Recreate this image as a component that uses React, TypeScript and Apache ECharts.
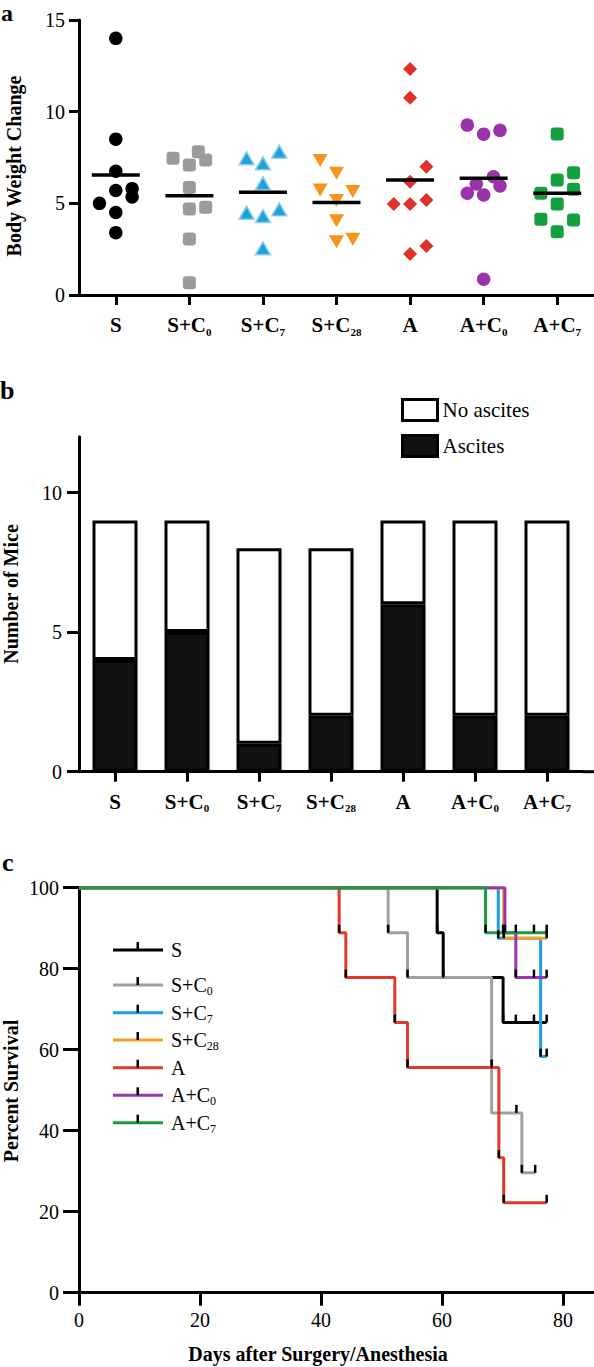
import React, { useEffect, useRef } from "react";
import * as echarts from "echarts";

const FONT = "Liberation Serif, Times New Roman, Times, serif";

// ---------- data ----------
const categories = ["S", "S+C_0", "S+C_7", "S+C_28", "A", "A+C_0", "A+C_7"];

// Panel a: body weight change per mouse (value) and beeswarm slot (offset)
const sVals = [14.0, 8.5, 6.75, 5.7, 5.8, 5.35, 5.0, 4.5, 3.4];
const sOff = [0, 0, 0, 0, 1, 1, -1, 0, 0];
const sc0Vals = [7.82, 7.46, 7.36, 7.09, 5.87, 4.69, 4.78, 3.05, 0.67];
const sc0Off = [0.55, -1, 1, 0, 0, 0, 1, 0, 0];
const sc7Vals = [7.82, 7.46, 7.18, 6.09, 4.49, 4.67, 4.31, 2.55];
const sc7Off = [1, -1, 0, 0, -1, 1, 0, 0];
const sc28Vals = [7.33, 6.64, 5.73, 5.64, 5.15, 4.05, 2.91, 3.04];
const sc28Off = [-1, 0, -1, 1, 0, 0, 0, 1];
const aVals = [12.33, 10.76, 7.0, 6.18, 4.96, 4.96, 5.18, 2.24, 2.67];
const aOff = [0, 0, 1, 0, -1, 0, 1, 0, 1];
const ac0Vals = [9.27, 8.77, 8.98, 6.45, 6.06, 5.95, 5.55, 5.46, 0.86];
const ac0Off = [-1, 0, 1, 0.6, -0.45, 1, -1, 0, 0];
const ac7Vals = [8.78, 6.67, 6.27, 5.77, 5.55, 4.96, 4.13, 4.09, 3.45];
const ac7Off = [0, 1, 0, 1, -1, 0, -1, 1, 0];
const groupMeans = [6.55, 5.42, 5.6, 5.05, 6.27, 6.37, 5.55];

// Panel b: number of mice
const ascites = [4, 5, 1, 2, 6, 2, 2];
const noAscites = [5, 4, 7, 6, 3, 7, 7];

// Panel c: survival (days, percent) and tick marks
const survS_t = [0, 59.2, 60.2, 70.1, 77.3];
const survS_p = [100, 88.9, 77.8, 66.7, 66.7];
const tickS = [[59.2, 88.9], [60.2, 77.8], [70.1, 66.7], [72.2, 66.7], [75.2, 66.7], [77.3, 66.7]];
const survSC0_t = [0, 51.1, 54.3, 68.2, 73.2, 75.4];
const survSC0_p = [100, 88.9, 77.8, 44.4, 29.6, 29.6];
const tickSC0 = [[51.1, 88.9], [54.3, 77.8], [68.2, 55.6], [72.3, 44.4], [73.2, 29.6], [75.4, 29.6]];
const survSC7_t = [0, 69.3, 76.3, 77.3];
const survSC7_p = [100, 87.5, 58.3, 58.3];
const tickSC7 = [[69.3, 87.5], [76.3, 58.3], [77.3, 58.3]];
const survSC28_t = [0, 70.2, 77.3];
const survSC28_p = [100, 87.5, 87.5];
const tickSC28 = [[70.2, 87.5], [77.3, 87.5]];
const survA_t = [0, 43.0, 44.1, 52.2, 54.3, 69.4, 70.2, 77.3];
const survA_p = [100, 88.9, 77.8, 66.7, 55.6, 33.3, 22.2, 22.2];
const tickA = [[43.0, 88.9], [44.1, 77.8], [52.2, 66.7], [54.3, 55.6], [69.4, 33.3], [70.2, 22.2], [77.3, 22.2]];
const survAC0_t = [0, 70.4, 72.2, 77.3];
const survAC0_p = [100, 88.9, 77.8, 77.8];
const tickAC0 = [[70.4, 88.9], [72.2, 77.8], [75.2, 77.8], [77.3, 77.8]];
const survAC7_t = [0, 67.2, 77.3];
const survAC7_p = [100, 88.9, 88.9];
const tickAC7 = [[67.2, 88.9], [70.1, 88.9], [72.2, 88.9], [75.2, 88.9], [77.3, 88.9]];

const yTicksA = [0, 5, 10, 15];
const yTicksB = [0, 5, 10];
const xTicksC = [0, 20, 40, 60, 80];
const yTicksC = [0, 20, 40, 60, 80, 100];

// ---------- styles ----------
const SLOT = 0.222;
const dotColors = ["#000000", "#9b9b9b", "#1ea2d8", "#f5951a", "#e0302a", "#9a32a9", "#14a03e"];
const lineColors = ["#000000", "#a0a0a0", "#1ba1dc", "#f4a024", "#e23a2a", "#9a35ad", "#1a9c3e"];

const toRich = (c: string, m: string) => {
  const parts = c.split("_");
  return parts.length > 1 ? `{${m}|${parts[0]}}{s|${parts[1]}}` : `{${m}|${parts[0]}}`;
};

export default function App() {
  const ref = useRef<HTMLDivElement>(null);
  useEffect(() => {
    if (!ref.current) return;
    const chart = echarts.init(ref.current, undefined, { renderer: "svg" });

    const dotVals = [sVals, sc0Vals, sc7Vals, sc28Vals, aVals, ac0Vals, ac7Vals];
    const dotOffs = [sOff, sc0Off, sc7Off, sc28Off, aOff, ac0Off, ac7Off];
    const symbols: any[] = [
      { symbol: "circle", symbolSize: 13.5 },
      { symbol: "roundRect", symbolSize: 13 },
      { symbol: "triangle", symbolSize: [15, 13] },
      { symbol: "triangle", symbolSize: [15, 13], symbolRotate: 180 },
      { symbol: "diamond", symbolSize: 14 },
      { symbol: "circle", symbolSize: 13.5 },
      { symbol: "roundRect", symbolSize: 13 },
    ];

    const axisLineStyle = { show: true, onZero: false, lineStyle: { color: "#000", width: 3 } };
    const catLabelRich = {
      m: { fontSize: 21, fontWeight: "bold", fontFamily: FONT, color: "#000", lineHeight: 24 },
      s: { fontSize: 11, fontWeight: "bold", fontFamily: FONT, color: "#000", lineHeight: 12, verticalAlign: "bottom" },
    };
    const numLabel = { fontSize: 20, fontFamily: FONT, color: "#000" };

    const series: any[] = [];
    dotVals.forEach((vals, g) => {
      series.push({
        type: "scatter",
        name: categories[g],
        xAxisIndex: 1,
        yAxisIndex: 0,
        data: vals.map((v, j) => [g + dotOffs[g][j] * SLOT, v]),
        ...symbols[g],
        itemStyle:
          g === 2
            ? { color: dotColors[g], borderColor: "#8fd0ee", borderWidth: 1.5, opacity: 1 }
            : { color: dotColors[g], opacity: 1 },
      });
    });
    series.push({
      type: "scatter",
      name: "mean",
      xAxisIndex: 1,
      yAxisIndex: 0,
      data: groupMeans.map((m, g) => [g, m]),
      symbol: "rect",
      symbolSize: [48, 3.5],
      itemStyle: { color: "#000", opacity: 1 },
      z: 5,
    });

    series.push({
      type: "bar",
      name: "Ascites",
      xAxisIndex: 2,
      yAxisIndex: 1,
      stack: "mice",
      data: ascites,
      barWidth: 45,
      itemStyle: { color: "#111", borderColor: "#000", borderWidth: 3 },
    });
    series.push({
      type: "bar",
      name: "No ascites",
      xAxisIndex: 2,
      yAxisIndex: 1,
      stack: "mice",
      data: noAscites,
      barWidth: 45,
      itemStyle: { color: "#fff", borderColor: "#000", borderWidth: 3 },
    });

    const survT = [survS_t, survSC0_t, survSC7_t, survSC28_t, survA_t, survAC0_t, survAC7_t];
    const survP = [survS_p, survSC0_p, survSC7_p, survSC28_p, survA_p, survAC0_p, survAC7_p];
    const ticks = [tickS, tickSC0, tickSC7, tickSC28, tickA, tickAC0, tickAC7];
    survT.forEach((t, g) => {
      series.push({
        type: "line",
        name: "surv " + categories[g],
        xAxisIndex: 3,
        yAxisIndex: 2,
        step: "end",
        showSymbol: false,
        symbol: "none",
        data: t.map((d, j) => [d, survP[g][j]]),
        lineStyle: { color: lineColors[g], width: 3 },
      });
    });
    ticks.forEach((tk, g) => {
      series.push({
        type: "scatter",
        name: "ticks " + categories[g],
        xAxisIndex: 3,
        yAxisIndex: 2,
        data: tk,
        symbol: "rect",
        symbolSize: [2.5, 8],
        symbolOffset: [0, -4],
        itemStyle: { color: "#000", opacity: 1 },
        z: 6,
      });
    });

    // Panel c legend (graphic)
    const legRows = [950, 985, 1012.7, 1040, 1067.7, 1095.3, 1122.7];
    const legRich = {
      m: { fontSize: 20, fontFamily: FONT, color: "#000", lineHeight: 24 },
      s: { fontSize: 12, fontFamily: FONT, color: "#000", lineHeight: 8, verticalAlign: "bottom" },
    };
    const legendGraphics: any[] = [];
    categories.forEach((c, g) => {
      const y = legRows[g];
      legendGraphics.push({
        type: "line",
        shape: { x1: 113, y1: y, x2: 163, y2: y },
        style: { stroke: lineColors[g], lineWidth: 3 },
      });
      legendGraphics.push({
        type: "rect",
        shape: { x: 136.5, y: y - 8, width: 2.5, height: 8 },
        style: { fill: "#000" },
      });
      legendGraphics.push({
        type: "text",
        x: 171,
        y: y,
        style: { text: toRich(c, "m"), rich: legRich, verticalAlign: "middle", align: "left" },
      });
    });

    const titleStyle = (t: string, size = 20) => ({
      text: t,
      fontSize: size,
      fontWeight: "bold",
      fontFamily: FONT,
      fill: "#000",
      align: "center",
      verticalAlign: "middle",
    });
    const letterStyle = (t: string) => ({
      text: t,
      fontSize: 26,
      fontWeight: "bold",
      fontFamily: FONT,
      fill: "#000",
      verticalAlign: "bottom",
    });

    const option: any = {
      animation: false,
      backgroundColor: "#fff",
      textStyle: { fontFamily: FONT },
      grid: [
        { left: 79, top: 20, width: 515, height: 275 },
        { left: 79, top: 436.7, width: 504, height: 335 },
        { left: 79, top: 887.7, width: 514.25, height: 405 },
      ],
      xAxis: [
        {
          type: "category",
          gridIndex: 0,
          data: categories,
          axisLine: axisLineStyle,
          axisTick: { show: true, alignWithLabel: true, length: 10, lineStyle: { color: "#000", width: 3 } },
          axisLabel: { interval: 0, margin: 18, formatter: (v: string) => toRich(v, "m"), rich: catLabelRich },
        },
        { type: "value", gridIndex: 0, min: -0.5, max: 6.5, show: false },
        {
          type: "category",
          gridIndex: 1,
          data: categories,
          axisLine: axisLineStyle,
          axisTick: { show: true, alignWithLabel: true, length: 10, lineStyle: { color: "#000", width: 3 } },
          axisLabel: { interval: 0, margin: 18, formatter: (v: string) => toRich(v, "m"), rich: catLabelRich },
        },
        {
          type: "value",
          gridIndex: 2,
          min: 0,
          max: 85,
          splitLine: { show: false },
          axisLine: axisLineStyle,
          axisTick: { show: true, length: 13, customValues: xTicksC, lineStyle: { color: "#000", width: 3 } },
          axisLabel: { margin: 17, customValues: xTicksC, ...numLabel },
        },
      ],
      yAxis: [
        {
          type: "value",
          gridIndex: 0,
          min: 0,
          max: 15,
          interval: 5,
          splitLine: { show: false },
          axisLine: axisLineStyle,
          axisTick: { show: true, length: 10, customValues: yTicksA, lineStyle: { color: "#000", width: 3 } },
          axisLabel: { margin: 14, customValues: yTicksA, ...numLabel },
        },
        {
          type: "value",
          gridIndex: 1,
          min: 0,
          max: 12,
          splitLine: { show: false },
          axisLine: axisLineStyle,
          axisTick: { show: true, length: 12, customValues: yTicksB, lineStyle: { color: "#000", width: 3 } },
          axisLabel: { margin: 17, customValues: yTicksB, ...numLabel },
        },
        {
          type: "value",
          gridIndex: 2,
          min: 0,
          max: 100,
          interval: 20,
          splitLine: { show: false },
          axisLine: axisLineStyle,
          axisTick: { show: true, length: 16, customValues: yTicksC, lineStyle: { color: "#000", width: 3 } },
          axisLabel: { margin: 20, customValues: yTicksC, ...numLabel },
        },
      ],
      legend: {
        data: [
          { name: "No ascites", itemStyle: { color: "#fff", borderColor: "#000", borderWidth: 3 } },
          { name: "Ascites", itemStyle: { color: "#111", borderColor: "#000", borderWidth: 3 } },
        ],
        orient: "vertical",
        left: 396,
        top: 393,
        icon: "rect",
        itemWidth: 35,
        itemHeight: 21,
        itemGap: 12,
        selectedMode: false,
        textStyle: { fontSize: 21, fontFamily: FONT, color: "#000" },
      },
      graphic: [
        {
          type: "text",
          x: 1,
          y: 1,
          style: { text: "a", fontSize: 24, fontWeight: "bold", fontFamily: FONT, fill: "#000", verticalAlign: "top" },
        },
        { type: "text", x: 0, y: 403.6, style: letterStyle("b") },
        { type: "text", x: 2, y: 875.6, style: letterStyle("c") },
        { type: "text", x: 14, y: 166, rotation: Math.PI / 2, style: titleStyle("Body Weight Change") },
        { type: "text", x: 11, y: 594, rotation: Math.PI / 2, style: titleStyle("Number of Mice") },
        { type: "text", x: 11, y: 1091, rotation: Math.PI / 2, style: titleStyle("Percent Survival") },
        { type: "text", x: 318, y: 1354, style: titleStyle("Days after Surgery/Anesthesia", 20) },
        { type: "line", shape: { x1: 583, y1: 771.7, x2: 594, y2: 771.7 }, style: { stroke: "#000", lineWidth: 3 } },
        ...legendGraphics,
      ],
      series,
    };
    chart.setOption(option);
    return () => chart.dispose();
  }, []);

  return (
    <div
      ref={ref}
      style={{ position: "absolute", left: 0, top: 0, width: 594, height: 1367, background: "#fff" }}
    />
  );
}
